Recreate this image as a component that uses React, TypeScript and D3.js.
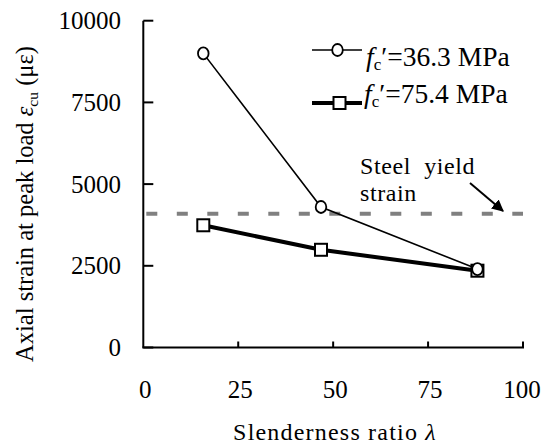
import React from "react";
import * as d3 from "d3";

const lambdaVals = [15.8, 46.8, 88.0];
const fc363 = [9000, 4300, 2400];
const fc754 = [3740, 2990, 2350];
const yieldStrain = 4090;
const xTicks = [0, 25, 50, 75, 100];
const yTicks = [0, 2500, 5000, 7500, 10000];

const FONT = "Liberation Serif, Times New Roman, serif";

export default function App() {
  const W = 542, H = 445;
  const x = d3.scaleLinear().domain([0, 100]).range([143.3, 523]);
  const y = d3.scaleLinear().domain([0, 10000]).range([347.5, 20.7]);
  const line = d3.line<number>().x((_, i) => x(lambdaVals[i])).y((d) => y(d));
  const fs = 25;
  const ts = { fontFamily: FONT };

  return (
    <svg width={W} height={H} style={{ position: "absolute", left: 0, top: 0, background: "#fff", fontFamily: FONT }}>
      <defs>
        <marker id="ah" viewBox="0 0 10 10" refX="9" refY="5" markerWidth="12" markerHeight="12" markerUnits="userSpaceOnUse" orient="auto">
          <path d="M0,0 L10,5 L0,10 z" fill="#000" />
        </marker>
      </defs>
      <line x1={x(0)} x2={x(100)} y1={y(yieldStrain)} y2={y(yieldStrain)} stroke="#808080" strokeWidth={4} strokeDasharray="11,19.5" strokeDashoffset={-3} />
      <line x1={x(0)} x2={x(0)} y1={y(0)} y2={y(10000)} stroke="#000" strokeWidth={2} />
      <line x1={x(0) - 1} x2={x(100) + 1} y1={y(0)} y2={y(0)} stroke="#000" strokeWidth={2} />
      {yTicks.map((t) => (
        <g key={"y" + t}>
          <line x1={x(0)} x2={x(0) + 10} y1={y(t)} y2={y(t)} stroke="#000" strokeWidth={2} />
          <text x={121} y={y(t) + 8.5} textAnchor="end" fontSize={fs} style={ts}>{t}</text>
        </g>
      ))}
      {xTicks.map((t) => (
        <g key={"x" + t}>
          {t > 0 && <line x1={x(t)} x2={x(t)} y1={y(0)} y2={y(0) - 6} stroke="#000" strokeWidth={2} />}
          <text x={Math.min(x(t) + 2, 522)} y={398} textAnchor="middle" fontSize={fs} style={ts}>{t}</text>
        </g>
      ))}
      <text x={335} y={440} textAnchor="middle" fontSize={24} letterSpacing={1.2} style={ts}>
        Slenderness ratio <tspan fontStyle="italic">λ</tspan>
      </text>
      <text transform="translate(33,204) rotate(-90)" textAnchor="middle" fontSize={24.5} style={ts}>
        Axial strain at peak load <tspan fontStyle="italic">ε</tspan>
        <tspan fontSize={15.5} dy={5}>cu</tspan>
        <tspan dy={-5}> (με)</tspan>
      </text>
      <path d={line(fc754) || ""} fill="none" stroke="#000" strokeWidth={4} />
      <path d={line(fc363) || ""} fill="none" stroke="#000" strokeWidth={1.6} />
      {fc754.map((v, i) => (
        <rect key={"s" + i} x={x(lambdaVals[i]) - 6} y={y(v) - 6} width={12} height={12} fill="#fff" stroke="#000" strokeWidth={2} />
      ))}
      {fc363.map((v, i) => (
        <ellipse key={"c" + i} cx={x(lambdaVals[i])} cy={y(v)} rx={5.3} ry={6} fill="#fff" stroke="#000" strokeWidth={1.8} />
      ))}
      <line x1={312} x2={362} y1={50} y2={50} stroke="#000" strokeWidth={1.6} />
      <ellipse cx={337.5} cy={50} rx={5.3} ry={6} fill="#fff" stroke="#000" strokeWidth={1.8} />
      <text x={366} y={66} fontSize={27.5} style={ts}>
        <tspan fontStyle="italic">f</tspan><tspan fontSize={17} dy={4}>c</tspan><tspan dy={-4}>′=36.3 MPa</tspan>
      </text>
      <line x1={312} x2={362} y1={103} y2={103} stroke="#000" strokeWidth={4} />
      <rect x={333.5} y={97} width={12} height={12} fill="#fff" stroke="#000" strokeWidth={2} />
      <text x={364} y={103} fontSize={27.5} style={ts}>
        <tspan fontStyle="italic">f</tspan><tspan fontSize={17} dy={4}>c</tspan><tspan dy={-4}>′=75.4 MPa</tspan>
      </text>
      <text x={360} y={174} fontSize={24} letterSpacing={0.6} style={{ ...ts, whiteSpace: "pre" }}>Steel  yield</text>
      <text x={360} y={201} fontSize={24} letterSpacing={0.6} style={ts}>strain</text>
      <line x1={470} y1={183} x2={503} y2={211} stroke="#000" strokeWidth={2} markerEnd="url(#ah)" />
    </svg>
  );
}
